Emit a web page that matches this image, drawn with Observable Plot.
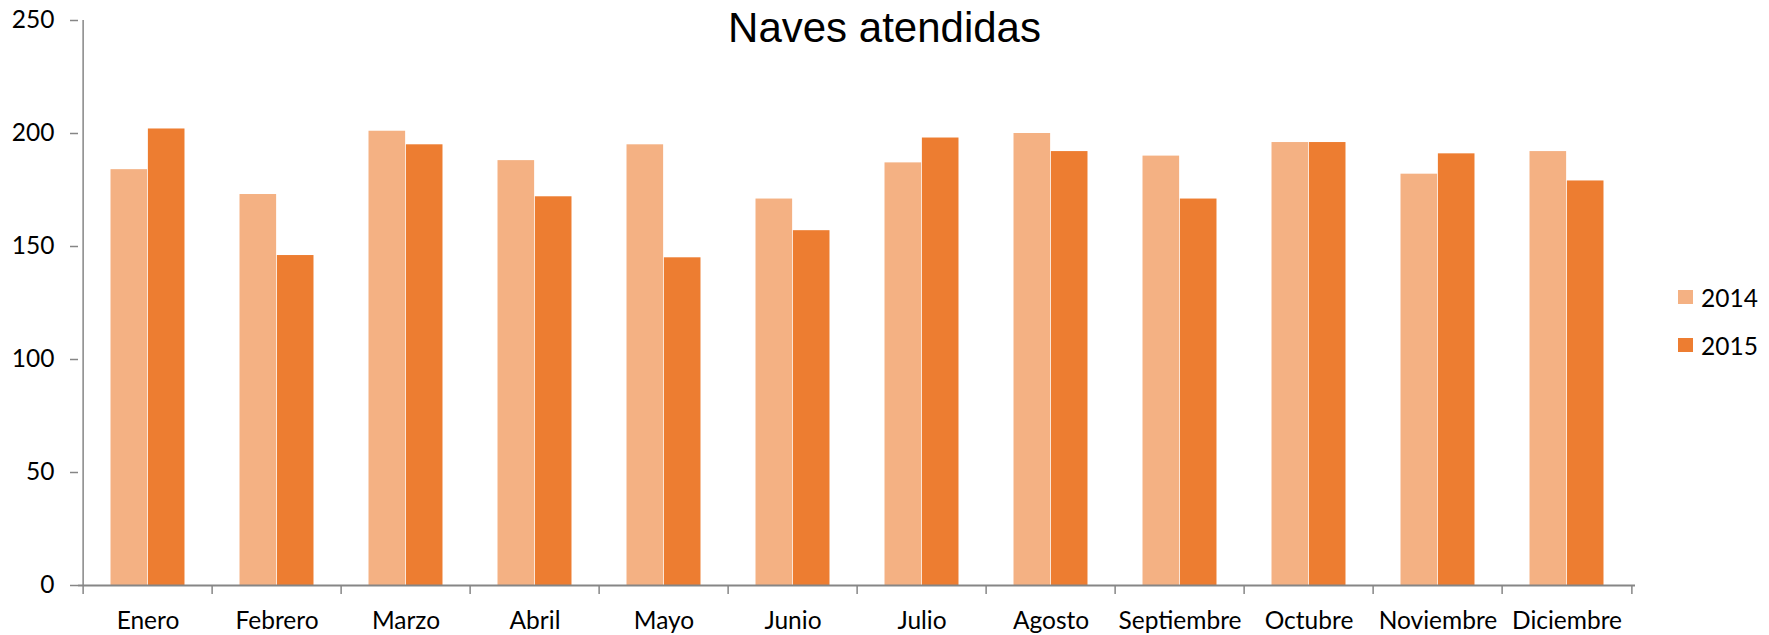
<!DOCTYPE html>
<html>
<head>
<meta charset="utf-8">
<script src="https://cdn.jsdelivr.net/npm/d3@7"></script>
<script src="https://cdn.jsdelivr.net/npm/@observablehq/plot@0.6"></script>
<style>
  html, body { margin: 0; padding: 0; background: #fff; }
  #wrap { position: relative; width: 1769px; height: 635px; font-family: Lato, "Open Sans", sans-serif; }
  #title { position: absolute; left: 0; width: 1769px; top: 7px; text-align: center; font-family: "Liberation Sans", Arial, sans-serif; font-size: 42px; line-height: 42px; color: #000; }
  .leg { position: absolute; left: 1678px; height: 24px; display: flex; align-items: center; font-size: 24.5px; color: #000; }
  .leg span.sw { display: inline-block; width: 15px; height: 14px; margin-right: 8px; }
</style>
</head>
<body>
<div id="wrap">
  <div id="chart"></div>
  <div id="title">Naves atendidas</div>
  <div class="leg" style="top:285px"><span class="sw" style="background:#F4B183"></span>2014</div>
  <div class="leg" style="top:333px"><span class="sw" style="background:#ED7D31"></span>2015</div>
</div>
<script>
const months = ["Enero","Febrero","Marzo","Abril","Mayo","Junio","Julio","Agosto","Septiembre","Octubre","Noviembre","Diciembre"];
const values2014 = [184, 173, 201, 188, 195, 171, 187, 200, 190, 196, 182, 192];
const values2015 = [202, 146, 195, 172, 145, 157, 198, 192, 171, 196, 191, 179];
const yTicks = [0, 50, 100, 150, 200, 250];

const W = 1769, H = 635, mL = 78, mR = 134, mT = 20, mB = 50;
const bw = (W - mL - mR) / months.length;
const barW = bw * 0.288;
const gap = (bw - 2 * barW) / 2;
const fs = 24.5;

const rows14 = months.map((m, i) => ({month: m, value: values2014[i]}));
const rows15 = months.map((m, i) => ({month: m, value: values2015[i]}));
const axisGray = "#868686";

const chart = Plot.plot({
  width: W, height: H,
  marginLeft: mL, marginRight: mR, marginTop: mT, marginBottom: mB,
  style: {fontFamily: "Lato, 'Open Sans', sans-serif", fontSize: fs + "px", color: "#000", background: "transparent"},
  x: {type: "band", domain: months, padding: 0, label: null},
  y: {domain: [0, 250], label: null},
  marks: [
    Plot.barY(rows14, {x: "month", y: "value", fill: "#F4B183", insetLeft: gap, insetRight: gap + barW}),
    Plot.barY(rows15, {x: "month", y: "value", fill: "#ED7D31", insetLeft: gap + barW, insetRight: gap}),
    Plot.axisY({ticks: yTicks, tickSize: 8, tickPadding: 16, stroke: axisGray, strokeWidth: 1.5, fill: "#000", fontSize: fs, label: null}),
    Plot.axisX({tickSize: 0, tickPadding: 26.5, fill: "#000", fontSize: fs, label: null}),
    Plot.ruleY([0], {stroke: axisGray, strokeWidth: 1.8}),
    Plot.ruleX([months[0]], {x: d => d, dx: -bw / 2, y1: 0, y2: 250, stroke: axisGray, strokeWidth: 1.5}),
    Plot.ruleX(months, {x: d => d, dx: -bw / 2, y1: 0, y2: 0, insetBottom: -9, stroke: axisGray, strokeWidth: 1.5}),
    Plot.ruleX([months[months.length - 1]], {x: d => d, dx: bw / 2, y1: 0, y2: 0, insetBottom: -9, stroke: axisGray, strokeWidth: 1.5})
  ]
});
document.getElementById("chart").appendChild(chart);
</script>
</body>
</html>
